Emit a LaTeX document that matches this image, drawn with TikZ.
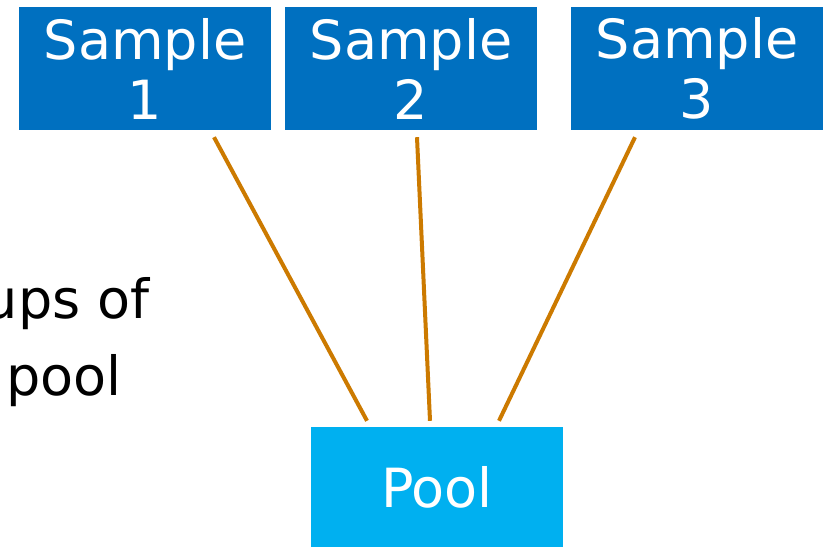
\documentclass[tikz,border=0pt]{standalone}
\usepackage{fontspec}
\setmainfont{DejaVu Sans}
\definecolor{sampleblue}{HTML}{0070C0}
\definecolor{poolblue}{HTML}{00B0F0}
\definecolor{linkorange}{HTML}{CC7A00}
\tikzset{
  bigfont/.style={font=\fontsize{54}{60}\selectfont},
  samplebox/.style={bigfont, fill=sampleblue, text=white, minimum width=252pt, minimum height=123pt, inner sep=0pt, align=center},
  poolbox/.style={bigfont, fill=poolblue, text=white, minimum width=252pt, minimum height=120pt, inner sep=0pt, align=center},
  sidetext/.style={bigfont, text=black, anchor=base east, inner sep=0pt},
  conn/.style={draw=linkorange, line width=4pt}
}
\begin{document}
\begin{tikzpicture}[x=1pt,y=-1pt]
\useasboundingbox (0,0) rectangle (823,547);
\clip (0,0) rectangle (823,547);
\fill[white] (0,0) rectangle (823,547);
\node[samplebox] (s1) at (145,68.5) {Sample\\1};
\node[samplebox] (s2) at (411,68.5) {Sample\\2};
\node[samplebox] (s3) at (697,68.5) {Sample\\3};
\node[poolbox] (pool) at (437,487) {Pool};
\node[sidetext] (t1) at (150,318) {ups of};
\node[sidetext] (t2) at (122,395) {pool};
\draw[conn] ([xshift=69pt,yshift=-7pt]s1.south) -- ([xshift=-70pt,yshift=6pt]pool.north);
\draw[conn] ([xshift=6pt,yshift=-7pt]s2.south) -- ([xshift=-7pt,yshift=6pt]pool.north);
\draw[conn] ([xshift=-62pt,yshift=-7pt]s3.south) -- ([xshift=62pt,yshift=6pt]pool.north);
\end{tikzpicture}
\end{document}
